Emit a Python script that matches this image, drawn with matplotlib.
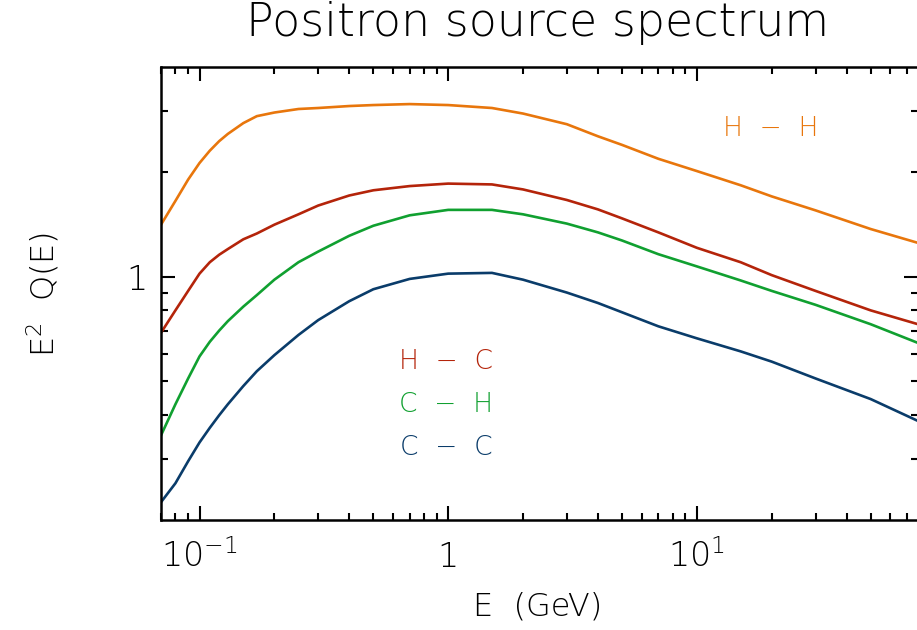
import numpy as np
import matplotlib
matplotlib.use("Agg")
import matplotlib.pyplot as plt
from matplotlib.ticker import FixedLocator, FixedFormatter, NullFormatter

plt.rcParams['font.family'] = ['DejaVu Sans']
plt.rcParams['font.weight'] = 'light'
plt.rcParams['mathtext.fontset'] = 'custom'
plt.rcParams['mathtext.rm'] = 'DejaVu Sans:light'
plt.rcParams['mathtext.it'] = 'DejaVu Sans:light'

# energy grid (GeV)
energy = [0.07, 0.08, 0.09, 0.1, 0.11, 0.12, 0.13, 0.15, 0.17, 0.2, 0.25, 0.3,
          0.4, 0.5, 0.7, 1.0, 1.5, 2, 3, 4, 5, 7, 10, 15, 20, 30, 50, 77.5]

# E^2 Q(E)
q_hh = [1.41, 1.65, 1.90, 2.12, 2.30, 2.45, 2.57, 2.76, 2.89, 2.96, 3.03, 3.05,
        3.09, 3.11, 3.13, 3.11, 3.05, 2.94, 2.74, 2.53, 2.39, 2.18, 2.01, 1.83,
        1.70, 1.55, 1.37, 1.25]
q_hc = [0.69, 0.80, 0.91, 1.02, 1.10, 1.156, 1.20, 1.28, 1.33, 1.41, 1.51, 1.60,
        1.71, 1.77, 1.82, 1.85, 1.84, 1.78, 1.66, 1.56, 1.47, 1.34, 1.21, 1.10,
        1.01, 0.91, 0.80, 0.73]
q_ch = [0.35, 0.43, 0.51, 0.59, 0.65, 0.70, 0.745, 0.82, 0.885, 0.98, 1.10, 1.18,
        1.31, 1.40, 1.50, 1.555, 1.555, 1.51, 1.42, 1.34, 1.27, 1.16, 1.07, 0.975,
        0.91, 0.83, 0.73, 0.645]
q_cc = [0.225, 0.255, 0.295, 0.334, 0.368, 0.40, 0.43, 0.485, 0.535, 0.595, 0.68,
        0.75, 0.85, 0.92, 0.985, 1.02, 1.025, 0.98, 0.90, 0.84, 0.79, 0.72, 0.665,
        0.61, 0.57, 0.51, 0.445, 0.385]

series = [('H  \u2212  H', q_hh, '#E8760C'),
          ('H  \u2212  C', q_hc, '#B4240A'),
          ('C  \u2212  H', q_ch, '#10A030'),
          ('C  \u2212  C', q_cc, '#0A3C6A')]

fig = plt.figure(figsize=(9.17, 6.3), dpi=100)
ax = fig.add_axes([161 / 917, 1 - 520 / 630, 757 / 917, 453 / 630])

for name, vals, col in series:
    ax.plot(energy, vals, color=col, lw=1.9)

ax.set_xscale('log')
ax.set_yscale('log')
ax.set_xlim(0.07, 77.5)
ax.set_ylim(0.2, 4)

ax.xaxis.set_major_locator(FixedLocator([0.1, 1, 10]))
ax.xaxis.set_major_formatter(FixedFormatter(['10$^{-1}$', '1', '10$^{1}$']))
xminor = [m * d for d in (0.01, 0.1, 1, 10) for m in range(2, 10)]
ax.xaxis.set_minor_locator(FixedLocator(xminor))
ax.xaxis.set_minor_formatter(NullFormatter())

ax.yaxis.set_major_locator(FixedLocator([1]))
ax.yaxis.set_major_formatter(FixedFormatter(['1']))
ax.yaxis.set_minor_locator(FixedLocator([0.3, 0.4, 0.5, 0.6, 0.7, 0.8, 0.9, 2, 3]))
ax.yaxis.set_minor_formatter(NullFormatter())

ax.tick_params(which='both', direction='in', top=True, right=True, width=1.5,
               labelsize=24)
ax.tick_params(which='major', length=10)
ax.tick_params(which='minor', length=5)
ax.tick_params(axis='x', pad=34)
ax.tick_params(axis='y', pad=10)
for lab in ax.get_xticklabels():
    lab.set_verticalalignment('baseline')
for sp in ax.spines.values():
    sp.set_linewidth(1.8)

fig.text(538 / 917, 1 - 36 / 630, 'Positron source spectrum', fontsize=33,
         ha='center', va='baseline')
fig.text(538 / 917, 1 - 616 / 630, 'E  (GeV)', fontsize=23, ha='center',
         va='baseline')
fig.text(43 / 917, 1 - 294 / 630, 'E$^2$  Q(E)', fontsize=23, ha='center',
         va='center', rotation=90)

label_pos = [(0.805, 0.865), (0.377, 0.349), (0.377, 0.254), (0.377, 0.159)]
for (name, vals, col), (tx, ty) in zip(series, label_pos):
    ax.text(tx, ty, name, color=col, fontsize=19, ha='center', va='center',
            transform=ax.transAxes)

fig.savefig('out.png', dpi=100)
